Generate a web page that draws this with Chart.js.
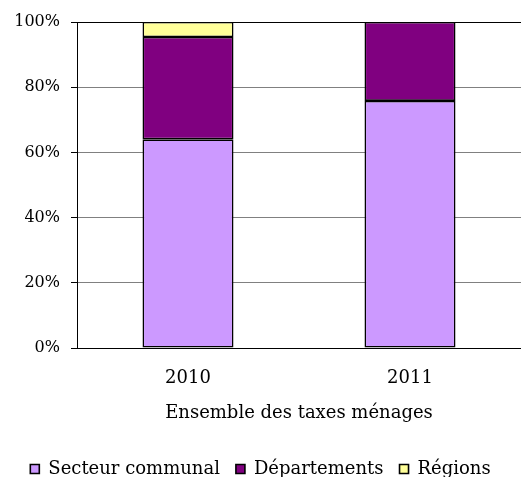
<!DOCTYPE html>
<html>
<head>
<meta charset="utf-8">
<script src="https://cdn.jsdelivr.net/npm/chart.js@4"></script>
<style>
  html, body { margin: 0; padding: 0; background: #fff; }
  #wrap { width: 521px; height: 477px; }
</style>
</head>
<body>
<div id="wrap"><canvas id="chart" width="521" height="477"></canvas></div>
<script>
// données (parts en %)
const annees = ['2010', '2011'];
const secteurCommunal = [64, 75.8];
const departements = [31.4, 24.2];
const regions = [4.6, 0];
const yTicks = [0, 20, 40, 60, 80, 100];

const police = "'DejaVu Serif', serif";

new Chart(document.getElementById('chart').getContext('2d'), {
    type: 'bar',
    data: {
        labels: annees,
        datasets: [
            { label: 'Secteur communal', data: secteurCommunal, backgroundColor: '#CC99FF' },
            { label: 'Départements', data: departements, backgroundColor: '#800080' },
            { label: 'Régions', data: regions, backgroundColor: '#FFFF99' }
        ]
    },
    options: {
        responsive: false,
        animation: false,
        layout: { padding: { top: 22, right: 0, left: 0, bottom: -11 } },
        datasets: { bar: { categoryPercentage: 1, barPercentage: 0.41, borderColor: '#000', borderWidth: 1.6, borderSkipped: false } },
        plugins: {
            tooltip: { enabled: false },
            legend: {
                position: 'bottom',
                labels: {
                    color: '#000',
                    font: { family: police, size: 18 },
                    boxWidth: 9,
                    boxHeight: 9,
                    padding: 16
                }
            }
        },
        scales: {
            x: {
                stacked: true,
                grid: { display: true, drawOnChartArea: false, drawTicks: false },
                border: { color: '#000', width: 1 },
                ticks: { color: '#000', font: { family: police, size: 18 }, padding: 20 },
                title: { display: true, text: 'Ensemble des taxes ménages', color: '#000', font: { family: police, size: 18 }, padding: { top: 0, bottom: 20 } },
                afterFit: s => { s.height = 96; }
            },
            y: {
                stacked: true,
                min: 0, max: 100,
                afterBuildTicks: s => { s.ticks = yTicks.map(v => ({ value: v })); },
                grid: {
                    color: c => c.tick && c.tick.value === 100 ? '#000' : '#808080',
                    tickLength: 6,
                    tickColor: '#000'
                },
                border: { color: '#000', width: 1 },
                ticks: { color: '#000', font: { family: police, size: 16 }, padding: 11, callback: v => v + '%' },
                afterFit: s => { s.width = 77; }
            }
        }
    }
});
</script>
</body>
</html>
